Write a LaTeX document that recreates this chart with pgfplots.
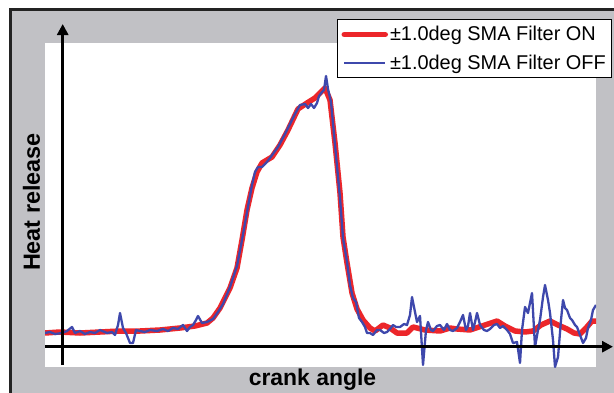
\documentclass[border=0pt]{standalone}
\usepackage{pgfplots}
\pgfplotsset{compat=1.18}
\usepackage{fontspec}
\setmainfont{Liberation Sans}
\usetikzlibrary{arrows.meta}
\definecolor{RedC}{RGB}{236,38,42}
\definecolor{BlueC}{RGB}{62,72,172}
\definecolor{GrayBg}{RGB}{193,193,197}
\definecolor{FrameC}{RGB}{35,35,35}
\begin{document}
\begin{tikzpicture}[x=1bp,y=1bp]
\clip (0,0) rectangle (614,392);
\fill[white] (0,0) rectangle (614,392);
\filldraw[fill=GrayBg, draw=FrameC, line width=3bp] (10,-20) -- (10,382) -- (640,382) -- (640,-20) -- cycle;
\fill[white] (45,25) rectangle (596,349);
\begin{axis}[
  at={(45bp,25bp)}, anchor=south west,
  width=551bp, height=324bp, scale only axis,
  xmin=45, xmax=596, ymin=-20, ymax=304,
  hide axis, clip=true,
  legend cell align=left,
  legend image code/.code={\draw[#1] (0bp,0bp) -- (41bp,0bp);},
  legend style={at={(axis cs:337,328)}, anchor=north west, draw=black, line width=1bp,
    fill=white, font=\fontsize{20}{23}\selectfont, inner xsep=4bp, inner ysep=5bp,
    row sep=8.5bp},
]
\addplot[RedC, line width=5.5bp, line join=round, line cap=round] coordinates {
(45,14) (60,15) (80,14) (100,15) (120,16) (140,16) (160,17) (180,19) (195,21) (207,24)
(213,29) (220,39) (230,59) (237,79) (242,107) (247,137) (252,159) (257,175) (262,184)
(267,187) (272,190) (280,202) (288,217) (298,238) (307,244) (315,249) (322,256) (325,259)
(330,247) (335,204) (340,154) (343,110) (347,84) (352,54) (357,38) (363,27) (370,19)
(375,16) (383,22) (390,19) (397,14) (407,14) (413,20) (425,17) (440,16) (450,19) (457,18) (470,17)
(485,22) (497,26) (505,21) (515,16) (525,15) (533,16) (541,22) (550,26) (558,22) (567,18)
(574,14) (580,13) (586,19) (592,26) (596,26)
};
\addlegendentry{±1.0deg SMA Filter ON}
\addplot[BlueC, line width=2.3bp, line join=round] coordinates {
(45,14) (50,15) (55,13) (62,14) (67,16) (72,20) (75,14) (80,16) (85,13) (90,15) (95,14)
(100,17) (107,14) (112,15) (115,12) (118,22) (120,34) (123,19) (126,14) (130,4) (133,4)
(136,17) (140,16) (145,15) (150,17) (157,16) (163,18) (168,16) (173,19) (178,18) (183,22)
(187,16) (190,20) (193,22) (196,27) (198,31) (202,24) (207,25) (213,28) (218,35) (223,43)
(230,60) (237,81) (242,107) (247,135) (252,162) (255,175) (258,180) (262,180) (266,184)
(270,189) (278,200) (285,213) (290,223) (295,233) (300,242) (305,243) (308,239) (311,243)
(314,239) (317,244) (319,251) (322,255) (324,257) (326,271) (328,258) (331,245) (335,202)
(340,149) (343,109) (347,85) (350,62) (353,49) (356,45) (359,29) (362,25) (365,20) (367,14)
(370,14) (373,12) (377,17) (380,17) (384,14) (387,15) (390,18) (393,22) (396,20) (400,20)
(404,23) (407,22) (410,32) (412,50) (415,35) (417,25) (420,31) (423,-18) (426,17) (428,25)
(431,17) (433,16) (437,21) (440,22) (444,17) (447,23) (450,17) (453,16) (457,19) (460,25)
(463,32) (466,17) (468,21) (470,34) (473,17) (475,25) (477,34) (480,22) (484,17) (487,16)
(490,18) (494,22) (497,23) (500,19) (503,21) (507,17) (510,13) (513,4) (517,5) (520,-16)
(522,17) (525,40) (528,34) (532,54) (535,0) (538,17) (540,27) (543,50) (545,62) (548,47)
(550,34) (553,7) (555,-20) (558,-10) (561,27) (563,47) (565,39) (567,37) (570,29) (572,27)
(575,22) (577,20) (580,12) (583,4) (586,9) (588,19) (591,27) (593,37) (596,42)
};
\addlegendentry{±1.0deg SMA Filter OFF\hspace{14bp}}
\end{axis}
\draw[line width=2.7bp, -{Triangle[length=11bp,width=11bp]}] (45,45.3) -- (613,45.3);
\draw[line width=2.7bp, -{Triangle[length=11bp,width=11bp]}] (62.7,27) -- (62.7,368);
\node[rotate=90, font=\bfseries\fontsize{23.5}{27}\selectfont] at (31.5,190) {Heat release};
\node[anchor=base, font=\bfseries\fontsize{23}{27}\selectfont] at (312.5,6.5) {crank angle};
\end{tikzpicture}
\end{document}
